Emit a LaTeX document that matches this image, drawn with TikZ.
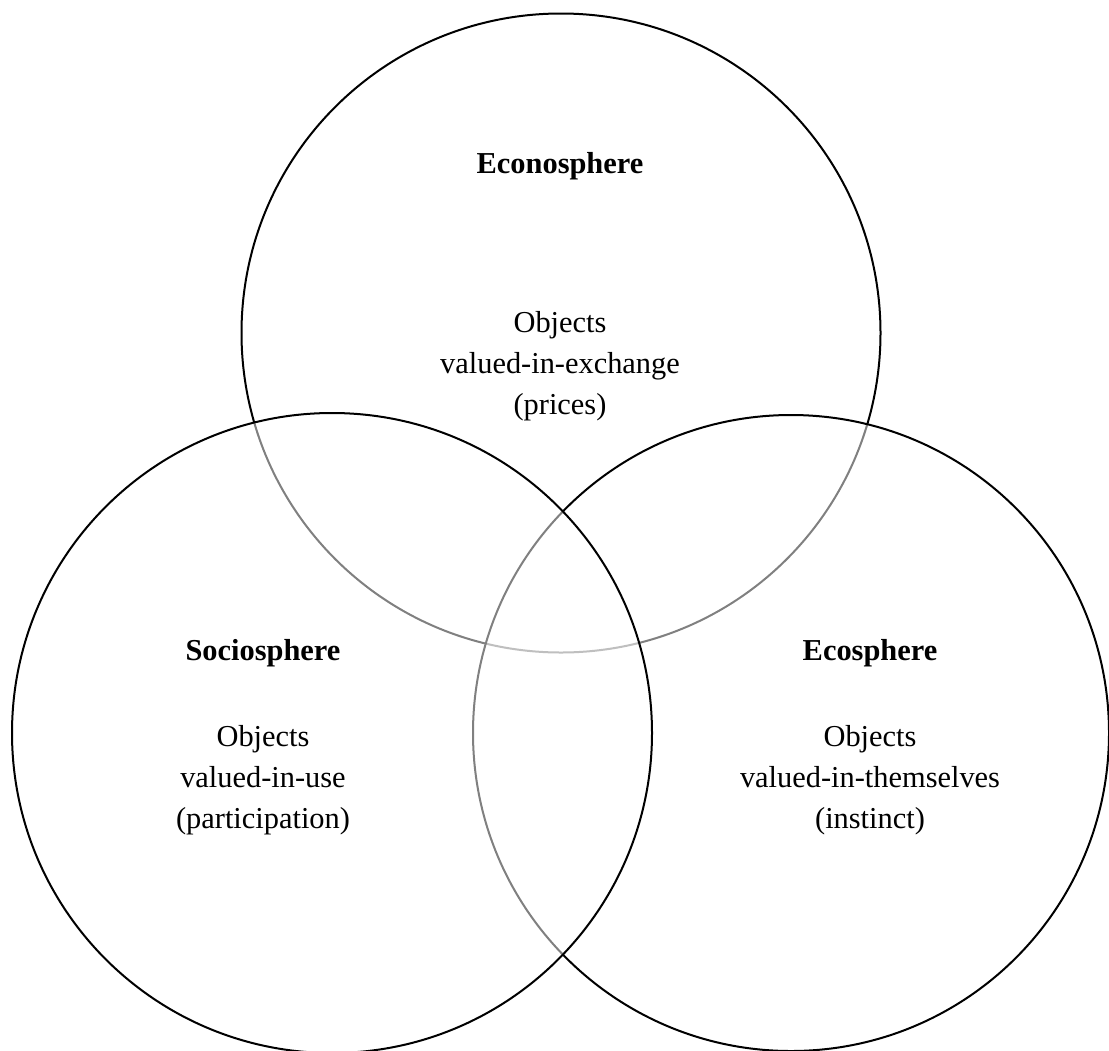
\documentclass[tikz,border=0pt]{standalone}
\usepackage{fontspec}
\setmainfont{Liberation Serif}
\begin{document}
\begin{tikzpicture}[x=0.75pt,y=-0.75pt,
  sphere/.style={draw=black,line width=1.5pt,fill=white,fill opacity=0.5},
  title/.style={font=\fontsize{22.8}{30.75}\selectfont\bfseries,inner sep=0pt},
  body/.style={font=\fontsize{22.8}{30.75}\selectfont,align=center,inner sep=0pt}]
\useasboundingbox (0,0) rectangle (1109,1050);
% each sphere is washed white over the ones drawn before it
\draw[sphere] (561,333) circle (319.5);
\draw[sphere] (791,733) circle (318);
\draw[sphere] (332,733) circle (320);
% labels
\node[title] (econ) at (560,166) {Econosphere};
\node[body] (econtxt) at (560,366) {Objects\\valued-in-exchange\\(prices)};
\node[title] (socio) at (263,653) {Sociosphere};
\node[body] (sociotxt) at (263,780) {Objects\\valued-in-use\\(participation)};
\node[title] (eco) at (870,653) {Ecosphere};
\node[body] (ecotxt) at (870,780) {Objects\\valued-in-themselves\\(instinct)};
\end{tikzpicture}
\end{document}
